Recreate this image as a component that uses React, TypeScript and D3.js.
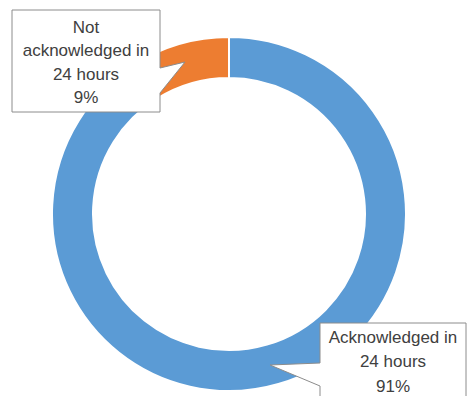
import * as d3 from "d3";

const categories = ["Acknowledged in 24 hours", "Not acknowledged in 24 hours"];
const values = [91, 9];
const colors = ["#5B9BD5", "#ED7D31"];
// wrapped label text, one array per slice
const labelLines = [
  ["Acknowledged in", "24 hours"],
  ["Not", "acknowledged in", "24 hours"],
];

const width = 468;
const height = 396;

interface ICallout {
  box: [number, number, number, number]; // x0, y0, x1, y1
  side: "left" | "right";
  base: [number, number];
  tip: [number, number];
  lineHeight: number;
  firstLine: number;
}

// callout boxes, matched to slice order
const callouts: ICallout[] = [
  { box: [320, 323, 466, 420], side: "left", base: [363, 386], tip: [270, 365], lineHeight: 24.5, firstLine: 337 },
  { box: [12, 10, 160, 112], side: "right", base: [68, 93], tip: [185, 62], lineHeight: 23.3, firstLine: 27 },
];

function calloutPath(c: ICallout): string {
  const [x0, y0, x1, y1] = c.box;
  const [ya, yb] = c.base;
  const [tx, ty] = c.tip;
  if (c.side === "right") {
    return `M${x0},${y0}H${x1}V${ya}L${tx},${ty}L${x1},${yb}V${y1}H${x0}Z`;
  }
  return `M${x0},${y0}H${x1}V${y1}H${x0}V${yb}L${tx},${ty}L${x0},${ya}Z`;
}

export default function App() {
  const cx = 229;
  const cy = 214;
  const outer = 177;
  const inner = 136;

  const total = d3.sum(values);
  const pie = d3.pie<number>().sort(null).value((d) => d);
  const arcs = pie(values);
  const arc = d3.arc<d3.PieArcDatum<number>>().innerRadius(inner).outerRadius(outer);

  return (
    <svg
      width={width}
      height={height}
      style={{ position: "absolute", left: 0, top: 0, background: "#fff" }}
      fontFamily="'Liberation Sans', Arial, sans-serif"
    >
      <g transform={`translate(${cx},${cy})`}>
        {arcs.map((a, i) => (
          <path key={categories[i]} d={arc(a) || ""} fill={colors[i]} stroke="#fff" strokeWidth={2} />
        ))}
      </g>
      {callouts.map((c, i) => {
        const cxText = (c.box[0] + c.box[2]) / 2;
        const lines = [...labelLines[i], `${Math.round((values[i] / total) * 100)}%`];
        return (
          <g key={categories[i]}>
            <path d={calloutPath(c)} fill="#fff" stroke="#8c8c8c" strokeWidth={1} />
            {lines.map((t, j) => (
              <text
                key={j}
                x={cxText}
                y={c.firstLine + j * c.lineHeight}
                dy="0.35em"
                textAnchor="middle"
                fontSize={17}
                fill="#404040"
              >
                {t}
              </text>
            ))}
          </g>
        );
      })}
    </svg>
  );
}
